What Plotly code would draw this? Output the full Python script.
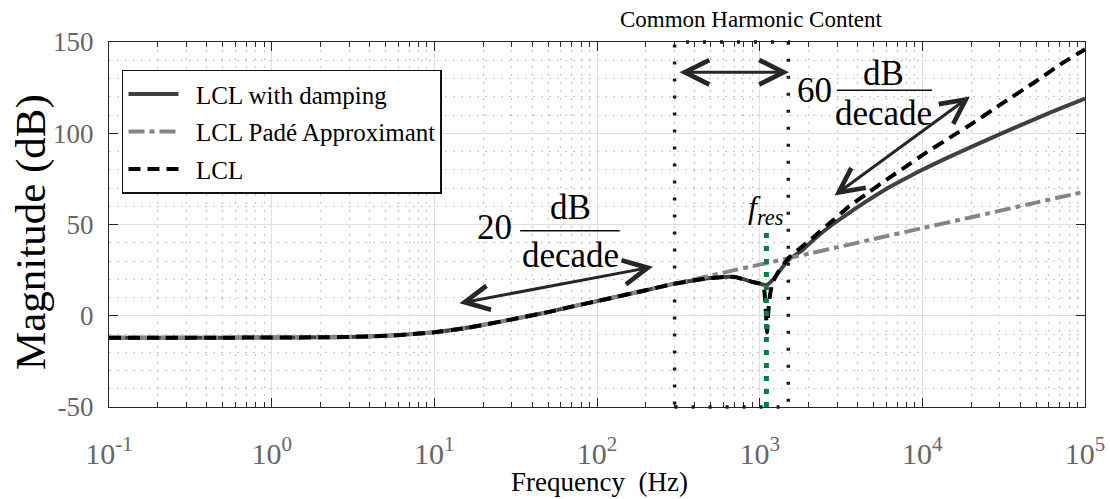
import plotly.graph_objects as go

# ---------------- data ----------------
freq_damped = [0.1, 0.2, 0.5, 1, 2, 3, 5, 7, 10, 15, 20, 30, 50, 70, 100, 150, 200, 300,
               400, 500, 600, 700, 800, 900, 1000, 1100, 1200, 1300, 1500, 1800, 2200, 2800,
               3500, 4500, 6000, 8000, 10000, 15000, 20000, 30000, 50000, 70000, 100000]
mag_damped = [-12.0, -12.0, -12.0, -11.95, -11.8, -11.6, -11.0, -10.2, -9.0, -7.0, -5.0, -2.0,
              2.0, 5.0, 8.0, 11.5, 14.0, 17.6, 19.5, 20.7, 21.3, 21.3, 19.9, 18.6, 17.6, 16.8,
              19.5, 23.5, 30.5, 35.5, 42.5, 50.0, 56.0, 62.5, 69.5, 75.5, 80.0, 87.5, 92.5,
              99.5, 108.0, 113.5, 119.0]

freq_pade = [0.1, 0.2, 0.5, 1, 2, 3, 5, 7, 10, 15, 20, 30, 50, 70, 100, 150, 200, 300,
             500, 700, 1000, 2000, 3000, 5000, 10000, 20000, 50000, 100000]
mag_pade = [-12.0, -12.0, -12.0, -11.95, -11.8, -11.6, -11.0, -10.2, -9.0, -7.0, -5.0, -2.0,
            2.0, 5.0, 8.0, 11.5, 14.0, 17.6, 22.0, 25.0, 28.0, 34.0, 37.5, 42.0, 48.0, 54.0,
            62.0, 68.0]

freq_lcl = [0.1, 0.2, 0.5, 1, 2, 3, 5, 7, 10, 15, 20, 30, 50, 70, 100, 150, 200, 300,
            400, 500, 600, 700, 800, 900, 1000, 1060, 1090, 1110, 1130, 1160, 1200, 1300,
            1500, 1800, 2200, 2800, 3500, 4500, 6000, 8000, 10000, 15000, 20000, 30000,
            50000, 70000, 100000]
mag_lcl = [-12.0, -12.0, -12.0, -11.95, -11.8, -11.6, -11.0, -10.2, -9.0, -7.0, -5.0, -2.0,
           2.0, 5.0, 8.0, 11.5, 14.0, 17.6, 19.5, 20.7, 21.3, 21.3, 19.9, 18.6, 17.6, 15.5,
           3.0, -9.0, 2.0, 12.0, 18.0, 24.0, 31.5, 37.5, 44.0, 52.0, 59.5, 66.5, 74.5, 82.0,
           88.0, 98.0, 105.0, 115.5, 128.5, 137.5, 146.0]

series_names = ["LCL with damping", "LCL Padé Approximant", "LCL"]

x_tickvals = [0.1, 1, 10, 100, 1000, 10000, 100000]
x_ticktext = ["10<sup>-1</sup>", "10<sup>0</sup>", "10<sup>1</sup>", "10<sup>2</sup>",
              "10<sup>3</sup>", "10<sup>4</sup>", "10<sup>5</sup>"]
y_tickvals = [-50, 0, 50, 100, 150]
y_ticktext = ["-50", "0", "50", "100", "150"]

harmonic_band = [300, 1500]      # Hz, common harmonic content
f_res = 1100                     # Hz
f_res_top = 46                   # dB

SERIF = "Liberation Serif, Times New Roman, serif"
minor_x = [m * 10.0 ** e for e in range(-1, 5) for m in range(2, 10)]
PAD = "\u00a0\u00a0"

fig = go.Figure()
fig.add_trace(go.Scatter(x=freq_damped, y=mag_damped, mode="lines", name=PAD + series_names[0],
                         legendgroup="a",
                         line=dict(color="#404040", width=4, shape="spline", smoothing=0.6)))
fig.add_trace(go.Scatter(x=freq_pade, y=mag_pade, mode="lines", name=PAD + series_names[1],
                         legendgroup="b",
                         line=dict(color="#858585", width=4, dash="16px,5px,5px,5px",
                                   shape="spline", smoothing=0.6)))
fig.add_trace(go.Scatter(x=freq_lcl, y=mag_lcl, mode="lines", name=PAD + series_names[2],
                         legendgroup="c",
                         line=dict(color="#000000", width=4, dash="12px,7px",
                                   shape="spline", smoothing=0.4)))

axis_common = dict(showline=True, linecolor="#262626", linewidth=1, mirror="ticks",
                   ticks="inside", tickcolor="#262626", zeroline=False, automargin=False,
                   showgrid=True, gridcolor="#dedede", gridwidth=1)

fig.update_xaxes(type="log", range=[-1, 5], tickvals=x_tickvals, ticktext=x_ticktext,
                 ticklen=9, ticklabelstandoff=20,
                 tickfont=dict(family=SERIF, size=30, color="#666666"),
                 minor=dict(tickvals=minor_x, ticks="inside", ticklen=5, tickcolor="#262626",
                            showgrid=True, griddash="2px,6px", gridcolor="#c4c4c4", gridwidth=1),
                 **axis_common)
fig.update_yaxes(range=[-50, 150], tickvals=y_tickvals, ticktext=y_ticktext, ticklen=9,
                 ticklabelstandoff=9,
                 tickfont=dict(family=SERIF, size=27, color="#666666"),
                 minor=dict(dtick=10, ticks="", showgrid=True, griddash="2px,6px",
                            gridcolor="#c4c4c4", gridwidth=1),
                 **axis_common)

shapes = [
    dict(type="rect", xref="x", yref="paper", x0=harmonic_band[0], x1=harmonic_band[1],
         y0=0, y1=1, line=dict(color="#1a1a1a", width=3.5, dash="3px,14px"), layer="above"),
    dict(type="line", xref="x", yref="y", x0=f_res, x1=f_res, y0=-50, y1=f_res_top,
         line=dict(color="#00803e", width=5, dash="5px,8px"), layer="above"),
    dict(type="line", xref="x", yref="y", x0=33.7, x1=138, y0=46.6, y1=46.6,
         line=dict(color="#111111", width=1.5)),
    dict(type="line", xref="x", yref="y", x0=2985, x1=11460, y0=123.5, y1=123.5,
         line=dict(color="#111111", width=1.5)),
]

def arrow(x0, y0, x1, y1):
    return dict(xref="x", yref="y", axref="x", ayref="y", x=x1, y=y1, ax=x0, ay=y0,
                text="", showarrow=True, arrowside="end+start", arrowhead=5,
                startarrowhead=5, arrowsize=1.6, startarrowsize=1.6, arrowwidth=3,
                arrowcolor="#262626")

def label(x, y, text, size):
    return dict(xref="x", yref="y", x=x, y=y, text=text, showarrow=False,
                xanchor="center", yanchor="middle",
                font=dict(family=SERIF, size=size, color="#000000"))

annotations = [
    arrow(1.1455, 6.7, 2.344, 26.8),
    arrow(3.451, 65.3, 4.293, 120.2),
    arrow(2.498, 133.4, 3.180, 133.4),
    label(1.367, 48.6, "20", 35),
    label(1.840, 59.1, "dB", 35),
    label(1.840, 33.2, "decade", 35),
    label(3.340, 123.6, "60", 35),
    label(3.764, 133.0, "dB", 35),
    label(3.764, 111.0, "decade", 35),
    label(3.040, 58.0, "<i>f</i><sub><i>res</i></sub>", 32),
    dict(xref="paper", yref="paper", x=0.6578, y=1.0618, text="Common Harmonic Content",
         showarrow=False, xanchor="center", yanchor="middle",
         font=dict(family=SERIF, size=23, color="#000000")),
    dict(xref="paper", yref="paper", x=-0.080, y=0.479, text="Magnitude (dB)",
         textangle=-90, showarrow=False, xanchor="center", yanchor="middle",
         font=dict(family=SERIF, size=43, color="#000000")),
    dict(xref="paper", yref="paper", x=0.503, y=-0.2514, text="Frequency\u00a0\u00a0(Hz)",
         showarrow=False, xanchor="center", yanchor="bottom",
         font=dict(family=SERIF, size=27, color="#000000")),
]

fig.update_layout(
    width=1110, height=499, autosize=False,
    margin=dict(l=109, r=25, t=42, b=92),
    paper_bgcolor="white", plot_bgcolor="white",
    shapes=shapes, annotations=annotations,
    legend=dict(x=0.0133, y=0.924, xanchor="left", yanchor="top",
                bgcolor="white", bordercolor="#111111", borderwidth=1.5,
                font=dict(family=SERIF, size=25, color="#000000"),
                traceorder="grouped", tracegroupgap=2, itemwidth=50),
    showlegend=True,
)

fig.write_html("out.html", config={"displayModeBar": False},
               post_script="document.body.style.margin='0';document.body.style.overflow='hidden';")
